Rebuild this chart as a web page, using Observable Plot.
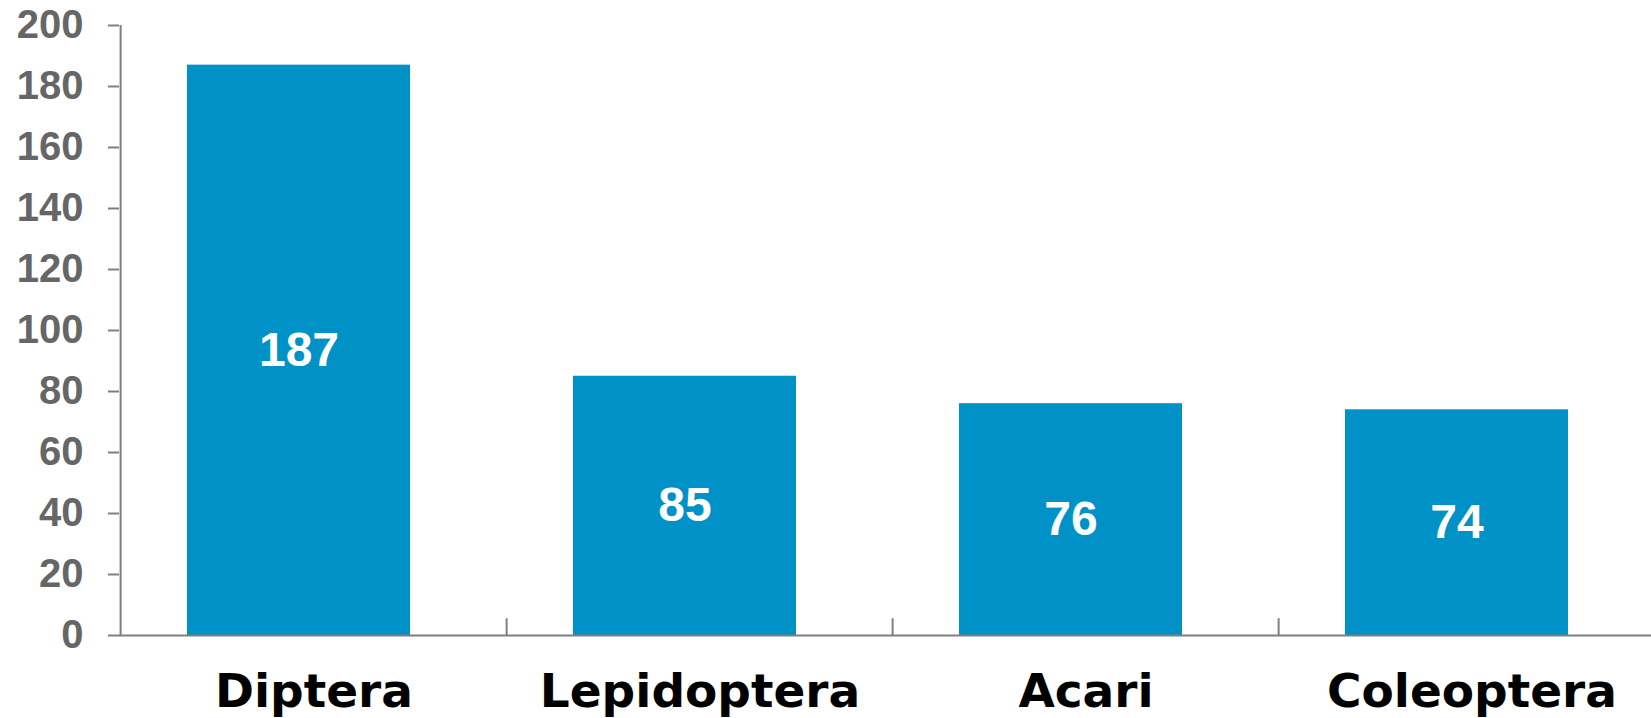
<!DOCTYPE html>
<html>
<head>
<meta charset="utf-8">
<script src="https://cdn.jsdelivr.net/npm/d3@7"></script>
<script src="https://cdn.jsdelivr.net/npm/@observablehq/plot@0.6"></script>
<style>
  html, body { margin: 0; padding: 0; background: white; overflow: hidden; }
</style>
</head>
<body>
<div id="chart"></div>
<script>
const categories = ["Diptera", "Lepidoptera", "Acari", "Coleoptera"];
const counts = [187, 85, 76, 74];
const yTicks = [0, 20, 40, 60, 80, 100, 120, 140, 160, 180, 200];

const data = categories.map((c, i) => ({category: c, count: counts[i]}));

const W = 1651, H = 718;
const xRange = [119, 1666];
const step = (xRange[1] - xRange[0]) / categories.length;
const barShift = -15;
const axisColor = "#7f7f7f";
const barColor = "#0091c7";

const chart = Plot.plot({
  width: W,
  height: H,
  marginLeft: 119,
  marginRight: 0,
  marginTop: 25,
  marginBottom: 83,
  style: {fontFamily: "'Liberation Sans', Arial, sans-serif", background: "white", overflow: "hidden"},
  x: {domain: categories, range: xRange, paddingInner: 0.423, paddingOuter: 0.2115},
  y: {domain: [0, 200]},
  marks: [
    Plot.barY(data, {x: "category", y: "count", fill: barColor, dx: barShift}),
    Plot.text(data, {x: "category", y: d => d.count / 2, text: d => String(d.count), dx: barShift,
      fill: "white", fontSize: 48, fontWeight: "bold"}),
    Plot.ruleY([0], {stroke: axisColor, strokeWidth: 2}),
    Plot.ruleX([categories[0]], {dx: -step / 2, y1: 0, y2: 200, stroke: axisColor, strokeWidth: 2}),
    Plot.ruleX(categories.slice(1), {dx: -step / 2, y1: 0, y2: 5.5, stroke: axisColor, strokeWidth: 2}),
    Plot.axisY({ticks: yTicks, tickSize: 11, tickPadding: 25, fontSize: 40, fontWeight: "bold",
      fill: "#666666", stroke: axisColor, strokeWidth: 2, label: null}),
    Plot.axisX({tickSize: 0, tickPadding: 38, fontSize: 47, fontWeight: "bold", fill: "black",
      fontFamily: "'DejaVu Sans', sans-serif", label: null})
  ]
});
document.getElementById("chart").appendChild(chart);
</script>
</body>
</html>
